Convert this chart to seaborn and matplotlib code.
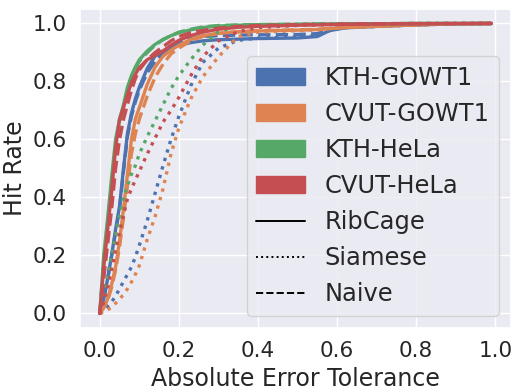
import numpy as np
import pandas as pd
import matplotlib
matplotlib.use("Agg")
import matplotlib.pyplot as plt
import seaborn as sns
from matplotlib.patches import Patch
from matplotlib.lines import Line2D

# ---- data ----
datasets = ["KTH-GOWT1", "CVUT-GOWT1", "KTH-HeLa", "CVUT-HeLa"]
methods = ["RibCage", "Siamese", "Naive"]

tolerance = [0.0, 0.01, 0.02, 0.03, 0.04, 0.05, 0.06, 0.07, 0.08, 0.09, 0.10,
             0.12, 0.14, 0.16, 0.18, 0.20, 0.23, 0.26, 0.30, 0.35, 0.40, 0.50,
             0.55, 0.58, 0.62, 0.70, 0.80, 0.90, 0.99]

kth_gowt1_ribcage = [0.0, 0.05, 0.12, 0.20, 0.29, 0.37, 0.50, 0.62, 0.69, 0.74, 0.78,
                     0.845, 0.888, 0.905, 0.918, 0.925, 0.934, 0.940, 0.944, 0.946, 0.948, 0.950,
                     0.955, 0.975, 0.985, 0.990, 0.995, 0.999, 1.0]
kth_gowt1_siamese = [0.0, 0.01, 0.025, 0.04, 0.06, 0.085, 0.11, 0.135, 0.16, 0.195, 0.235,
                     0.32, 0.415, 0.51, 0.60, 0.68, 0.785, 0.865, 0.915, 0.942, 0.950, 0.953,
                     0.958, 0.975, 0.985, 0.990, 0.995, 0.999, 1.0]
kth_gowt1_naive = [0.0, 0.05, 0.12, 0.20, 0.28, 0.36, 0.49, 0.61, 0.68, 0.73, 0.77,
                   0.83, 0.87, 0.90, 0.92, 0.935, 0.947, 0.955, 0.958, 0.960, 0.961, 0.962,
                   0.965, 0.978, 0.987, 0.992, 0.996, 0.999, 1.0]

cvut_gowt1_ribcage = [0.0, 0.02, 0.05, 0.10, 0.16, 0.25, 0.36, 0.48, 0.60, 0.67, 0.71,
                      0.79, 0.85, 0.887, 0.908, 0.925, 0.945, 0.958, 0.966, 0.971, 0.974, 0.977,
                      0.979, 0.982, 0.986, 0.990, 0.995, 0.999, 1.0]
cvut_gowt1_siamese = [0.0, 0.005, 0.013, 0.022, 0.035, 0.05, 0.065, 0.085, 0.108, 0.135, 0.165,
                      0.255, 0.335, 0.43, 0.55, 0.64, 0.74, 0.815, 0.885, 0.955, 0.970, 0.975,
                      0.978, 0.982, 0.986, 0.990, 0.995, 0.999, 1.0]
cvut_gowt1_naive = [0.0, 0.02, 0.045, 0.09, 0.15, 0.23, 0.33, 0.44, 0.55, 0.62, 0.67,
                    0.75, 0.815, 0.86, 0.895, 0.915, 0.94, 0.955, 0.966, 0.972, 0.975, 0.978,
                    0.980, 0.983, 0.987, 0.991, 0.996, 0.999, 1.0]

kth_hela_ribcage = [0.0, 0.20, 0.33, 0.47, 0.60, 0.67, 0.72, 0.78, 0.82, 0.85, 0.875,
                    0.905, 0.928, 0.945, 0.958, 0.968, 0.978, 0.986, 0.991, 0.994, 0.996, 0.997,
                    0.998, 0.998, 0.999, 0.999, 1.0, 1.0, 1.0]
kth_hela_siamese = [0.0, 0.06, 0.13, 0.20, 0.27, 0.34, 0.40, 0.44, 0.48, 0.51, 0.55,
                    0.61, 0.665, 0.72, 0.775, 0.82, 0.875, 0.925, 0.972, 0.990, 0.995, 0.997,
                    0.998, 0.998, 0.999, 0.999, 1.0, 1.0, 1.0]
kth_hela_naive = [0.0, 0.18, 0.30, 0.44, 0.57, 0.65, 0.71, 0.77, 0.81, 0.845, 0.87,
                  0.90, 0.925, 0.944, 0.958, 0.970, 0.980, 0.988, 0.993, 0.995, 0.996, 0.997,
                  0.998, 0.998, 0.999, 0.999, 1.0, 1.0, 1.0]

cvut_hela_ribcage = [0.0, 0.16, 0.29, 0.42, 0.57, 0.67, 0.71, 0.755, 0.795, 0.825, 0.848,
                     0.875, 0.89, 0.905, 0.925, 0.942, 0.958, 0.970, 0.980, 0.987, 0.990, 0.994,
                     0.995, 0.996, 0.997, 0.998, 0.999, 1.0, 1.0]
cvut_hela_siamese = [0.0, 0.04, 0.09, 0.15, 0.22, 0.28, 0.34, 0.395, 0.43, 0.46, 0.49,
                     0.55, 0.605, 0.66, 0.70, 0.745, 0.82, 0.885, 0.94, 0.972, 0.986, 0.993,
                     0.995, 0.996, 0.997, 0.998, 0.999, 1.0, 1.0]
cvut_hela_naive = [0.0, 0.12, 0.24, 0.36, 0.50, 0.60, 0.67, 0.72, 0.77, 0.81, 0.84,
                   0.875, 0.90, 0.92, 0.94, 0.955, 0.968, 0.976, 0.984, 0.990, 0.993, 0.996,
                   0.997, 0.997, 0.998, 0.999, 1.0, 1.0, 1.0]

curves = {
    ("KTH-GOWT1", "RibCage"): kth_gowt1_ribcage,
    ("KTH-GOWT1", "Siamese"): kth_gowt1_siamese,
    ("KTH-GOWT1", "Naive"): kth_gowt1_naive,
    ("CVUT-GOWT1", "RibCage"): cvut_gowt1_ribcage,
    ("CVUT-GOWT1", "Siamese"): cvut_gowt1_siamese,
    ("CVUT-GOWT1", "Naive"): cvut_gowt1_naive,
    ("KTH-HeLa", "RibCage"): kth_hela_ribcage,
    ("KTH-HeLa", "Siamese"): kth_hela_siamese,
    ("KTH-HeLa", "Naive"): kth_hela_naive,
    ("CVUT-HeLa", "RibCage"): cvut_hela_ribcage,
    ("CVUT-HeLa", "Siamese"): cvut_hela_siamese,
    ("CVUT-HeLa", "Naive"): cvut_hela_naive,
}

rows = []
for (ds, m), vals in curves.items():
    for t, v in zip(tolerance, vals):
        rows.append({"tol": t, "hit": v, "dataset": ds, "method": m})
df = pd.DataFrame(rows)

# ---- style ----
sns.set_theme(style="darkgrid", palette="deep")
plt.rcParams["font.family"] = ["DejaVu Sans"]

fig = plt.figure(figsize=(5.14, 3.90), dpi=100)
ax = fig.add_axes([0.156, 0.159, 0.838, 0.818])

palette = dict(zip(datasets, sns.color_palette("deep", 4)))
dash_map = {"RibCage": "", "Siamese": (1, 1.65), "Naive": (3.7, 1.6)}

for ds in datasets:
    sub = df[df["dataset"] == ds]
    sns.lineplot(data=sub, x="tol", y="hit", hue="dataset", style="method",
                 hue_order=datasets, style_order=methods, palette=palette,
                 dashes=dash_map, estimator=None, sort=False, legend=False,
                 linewidth=2.4, ax=ax)

ax.set_xticks([0.0, 0.2, 0.4, 0.6, 0.8, 1.0])
ax.set_yticks([0.0, 0.2, 0.4, 0.6, 0.8, 1.0])
ax.tick_params(labelsize=15.5)
ax.set_xlabel("Absolute Error Tolerance", fontsize=17)
ax.set_ylabel("Hit Rate", fontsize=17)

handles = [Patch(facecolor=palette[d], edgecolor=palette[d], label=d) for d in datasets]
handles += [
    Line2D([], [], color="black", linestyle="-", linewidth=1.4, label="RibCage"),
    Line2D([], [], color="black", linestyle=":", linewidth=1.4, label="Siamese"),
    Line2D([], [], color="black", linestyle="--", linewidth=1.4, label="Naive"),
]
ax.legend(handles=handles, loc="lower right", fontsize=17.4)

fig.savefig("out.png", dpi=100)
